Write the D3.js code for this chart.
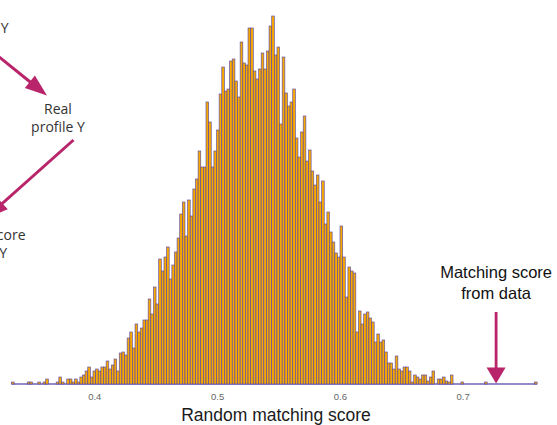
<!DOCTYPE html>
<html>
<head>
<meta charset="utf-8">
<script src="https://cdn.jsdelivr.net/npm/d3@7"></script>
<style>
  html, body { margin: 0; padding: 0; background: #fff; }
  svg { display: block; }
</style>
</head>
<body>
<svg id="chart" width="557" height="425"></svg>
<script>
// ---- data ----
const binStart = 0.3326;
const binWidth = 0.00214;
const counts = [
  2, 0, 0, 0, 0, 0, 2, 2, 0, 0,
  2, 0, 2, 5, 0, 0, 0, 2, 7, 2,
  0, 5, 5, 2, 5, 2, 7, 9, 13, 17,
  7, 13, 15, 13, 17, 17, 23, 15, 19, 25,
  13, 31, 32, 29, 46, 52, 36, 60, 52, 56,
  64, 64, 85, 70, 97, 80, 125, 113, 127, 137,
  105, 119, 132, 146, 170, 182, 148, 184, 168, 195,
  205, 233, 217, 217, 282, 262, 217, 233, 254, 290,
  317, 293, 295, 323, 325, 303, 287, 342, 321, 319,
  356, 356, 313, 305, 315, 331, 315, 333, 358, 368,
  329, 337, 260, 327, 291, 278, 282, 295, 246, 227,
  252, 268, 223, 234, 213, 199, 209, 182, 203, 160,
  172, 152, 142, 131, 127, 158, 127, 87, 117, 113,
  111, 52, 73, 60, 70, 72, 66, 62, 42, 50,
  42, 44, 32, 21, 21, 15, 28, 15, 13, 17,
  17, 13, 2, 9, 7, 5, 9, 9, 3, 7,
  13, 0, 5, 5, 7, 3, 2, 9, 0, 0,
  0, 2, 0, 0, 0, 0, 0, 0, 0, 0,
  2, 0, 0, 0, 0, 0, 0, 0, 0, 0,
  0, 0, 0, 0, 0, 0, 0, 0, 0, 2
];
const xTicks = [0.4, 0.5, 0.6, 0.7];
const xTitle = "Random matching score";
const dataScore = 0.7272;
const rightLabel = ["Matching score", "from data"];
const realLabel = ["Real", "profile Y"];
const topLeftLabel = ["profile Y"];
const bottomLeftLabel = ["Matching score", "profile Y"];

// ---- drawing ----
const svg = d3.select("#chart");
const x = d3.scaleLinear().domain([0.4, 0.7]).range([94.3, 462.7]);
const y = d3.scaleLinear().domain([0, 368]).range([384, 16]);

const bins = counts.map((c, i) => ({
  x0: binStart + i * binWidth,
  x1: binStart + (i + 1) * binWidth,
  c
}));

const fillC = "#f7a900";
const strokeC = "#5546a8";
const arrowC = "#b8256b";

// baseline
svg.append("line")
  .attr("x1", x(binStart)).attr("x2", x(binStart + counts.length * binWidth))
  .attr("y1", y(0)).attr("y2", y(0))
  .attr("stroke", strokeC).attr("stroke-width", 1.3).attr("stroke-opacity", 0.85);

svg.append("g").selectAll("rect")
  .data(bins.filter(d => d.c > 0))
  .join("rect")
  .attr("x", d => x(d.x0))
  .attr("width", d => x(d.x1) - x(d.x0))
  .attr("y", d => y(d.c))
  .attr("height", d => y(0) - y(d.c))
  .attr("fill", fillC)
  .attr("stroke", strokeC)
  .attr("stroke-width", 0.7)
  .attr("stroke-opacity", 0.9);

// x axis (labels only)
const axis = svg.append("g")
  .attr("transform", `translate(0,${y(0)})`)
  .call(d3.axisBottom(x).tickValues(xTicks).tickSize(0).tickPadding(9).tickFormat(d3.format(".1f")));
axis.select(".domain").remove();
axis.selectAll("text")
  .attr("font-family", "Liberation Sans, Arial, sans-serif")
  .attr("font-size", 9.5)
  .attr("fill", "#666");

svg.append("text")
  .attr("x", 276)
  .attr("y", 421)
  .attr("text-anchor", "middle")
  .attr("font-family", "Liberation Sans, Arial, sans-serif")
  .attr("font-size", 17.5)
  .attr("fill", "#1a1a1a")
  .text(xTitle);

// arrow helper
function arrow(x1, y1, x2, y2, headLen, headHalf, w) {
  const dx = x2 - x1, dy = y2 - y1, L = Math.hypot(dx, dy);
  const ux = dx / L, uy = dy / L;
  const bx = x2 - ux * headLen, by = y2 - uy * headLen;
  svg.append("line")
    .attr("x1", x1).attr("y1", y1).attr("x2", bx + ux * 2).attr("y2", by + uy * 2)
    .attr("stroke", arrowC).attr("stroke-width", w);
  svg.append("path")
    .attr("d", `M${x2},${y2}L${bx - uy * headHalf},${by + ux * headHalf}L${bx + uy * headHalf},${by - ux * headHalf}Z`)
    .attr("fill", arrowC);
}

// right annotation
const ax = x(dataScore);
svg.append("text")
  .attr("x", ax).attr("y", 278)
  .attr("text-anchor", "middle")
  .attr("font-family", "Liberation Sans, Arial, sans-serif")
  .attr("font-size", 16.5)
  .attr("fill", "#111")
  .selectAll("tspan").data(rightLabel).join("tspan")
  .attr("x", ax).attr("dy", (d, i) => i === 0 ? 0 : 21)
  .text(d => d);
arrow(ax, 312, ax, 383.5, 16, 9.5, 2.8);

// left annotations
const leftFont = "Open Sans, Noto Sans, sans-serif";
svg.append("text")
  .attr("x", 8.5).attr("y", 33)
  .attr("text-anchor", "end")
  .attr("font-family", leftFont).attr("font-size", 14).attr("fill", "#333")
  .text(topLeftLabel[0]);

svg.append("text")
  .attr("y", 114)
  .attr("text-anchor", "middle")
  .attr("font-family", leftFont).attr("font-size", 14).attr("fill", "#333")
  .selectAll("tspan").data(realLabel).join("tspan")
  .attr("x", 58).attr("dy", (d, i) => i === 0 ? 0 : 18)
  .text(d => d);

svg.append("text")
  .attr("y", 240)
  .attr("text-anchor", "end")
  .attr("font-family", leftFont).attr("font-size", 14).attr("fill", "#333")
  .selectAll("tspan").data(bottomLeftLabel).join("tspan")
  .attr("x", (d, i) => i === 0 ? 25.5 : 7).attr("dy", (d, i) => i === 0 ? 0 : 18)
  .text(d => d);

arrow(-12, 48, 47, 95.5, 22, 8, 3);
arrow(73.5, 140, -14, 218, 22, 8, 3);
</script>
</body>
</html>
